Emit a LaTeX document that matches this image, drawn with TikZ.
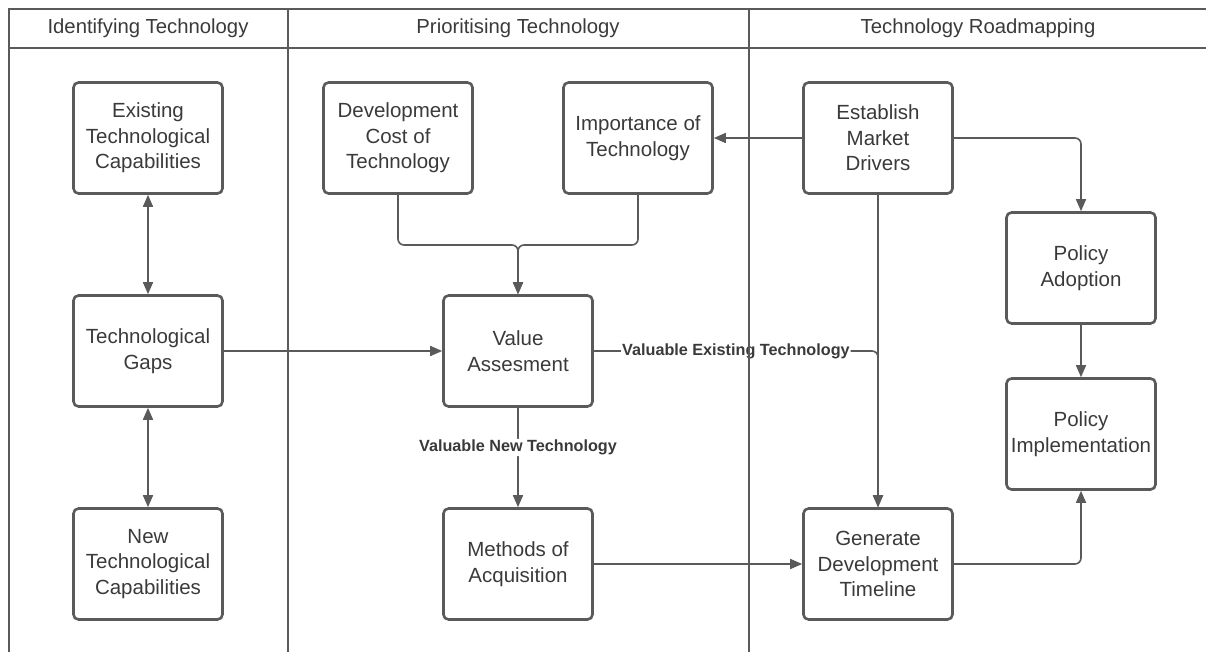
\documentclass[tikz,border=0pt]{standalone}
\usepackage{fontspec}
\setmainfont{Liberation Sans}
\usetikzlibrary{arrows.meta}
\definecolor{ln}{HTML}{5A5A5A}
\definecolor{tx}{HTML}{3A3A3A}
\begin{document}
\begin{tikzpicture}[x=1pt,y=-1pt,
 box/.style={draw=ln, line width=2.6pt, rounded corners=5pt, minimum width=149pt, minimum height=111pt, align=center, text=tx, font=\fontsize{20.5}{25.5}\selectfont, inner sep=0pt},
 conn/.style={draw=ln, line width=1.6pt, rounded corners=6pt, -{Triangle[length=12pt,width=10pt]}},
 both/.style={conn, {Triangle[length=12pt,width=10pt]}-{Triangle[length=12pt,width=10pt]}},
 lab/.style={font=\bfseries\fontsize{16.2}{18}\selectfont, text=tx, fill=white, inner sep=1pt},
 lane/.style={draw=ln, line width=2.6pt},
 hdr/.style={font=\fontsize{20.3}{24}\selectfont, text=tx}]
\useasboundingbox (0,0) rectangle (1206,652);
% headers
\node[hdr] (h1) at (148,28) {Identifying Technology};
\node[hdr] (h2) at (518,28) {Prioritising Technology};
\node[hdr] (h3) at (978,28) {Technology Roadmapping};
% boxes
\node[box] (ex)   at (148,138) {Existing\\Technological\\Capabilities};
\node[box] (gap)  at (148,351) {Technological\\Gaps};
\node[box] (new)  at (148,564) {New\\Technological\\Capabilities};
\node[box] (dev)  at (398,138) {Development\\Cost of\\Technology};
\node[box] (imp)  at (638,138) {Importance of\\Technology};
\node[box] (val)  at (518,351) {Value\\Assesment};
\node[box] (meth) at (518,564) {Methods of\\Acquisition};
\node[box] (est)  at (878,138) {Establish\\Market\\Drivers};
\node[box] (pad)  at (1081,268) {Policy\\Adoption};
\node[box] (pim)  at (1081,434) {Policy\\Implementation};
\node[box] (gen)  at (878,564) {Generate\\Development\\Timeline};
% connectors
\coordinate (j1) at (518,245);
\draw[both] (ex) -- (gap);
\draw[both] (gap) -- (new);
\draw[conn] (gap) -- (val);
\draw[conn] (dev.south) |- (j1) -- (val.north);
\draw[conn] (imp.south) |- (j1) -- (val.north);
\draw[conn] (est.west) -- (imp.east);
\draw[conn] (est.east) -| (pad.north);
\draw[conn] (est.south) -- (gen.north);
\draw[conn] (val.east) -| node[lab,pos=0.25]{Valuable Existing Technology} (gen.north);
\draw[conn] (val) -- node[lab,pos=0.4]{Valuable New Technology} (meth);
\draw[conn] (meth) -- (gen);
\draw[conn] (gen.east) -| (pim.south);
\draw[conn] (pad) -- (pim);
% lanes
\draw[lane] (1206,9) -- (9,9) -- (9,652);
\draw[lane] (9,48) -- (1206,48);
\draw[lane] (288,9) -- (288,652);
\draw[lane] (749,9) -- (749,652);
\end{tikzpicture}
\end{document}
